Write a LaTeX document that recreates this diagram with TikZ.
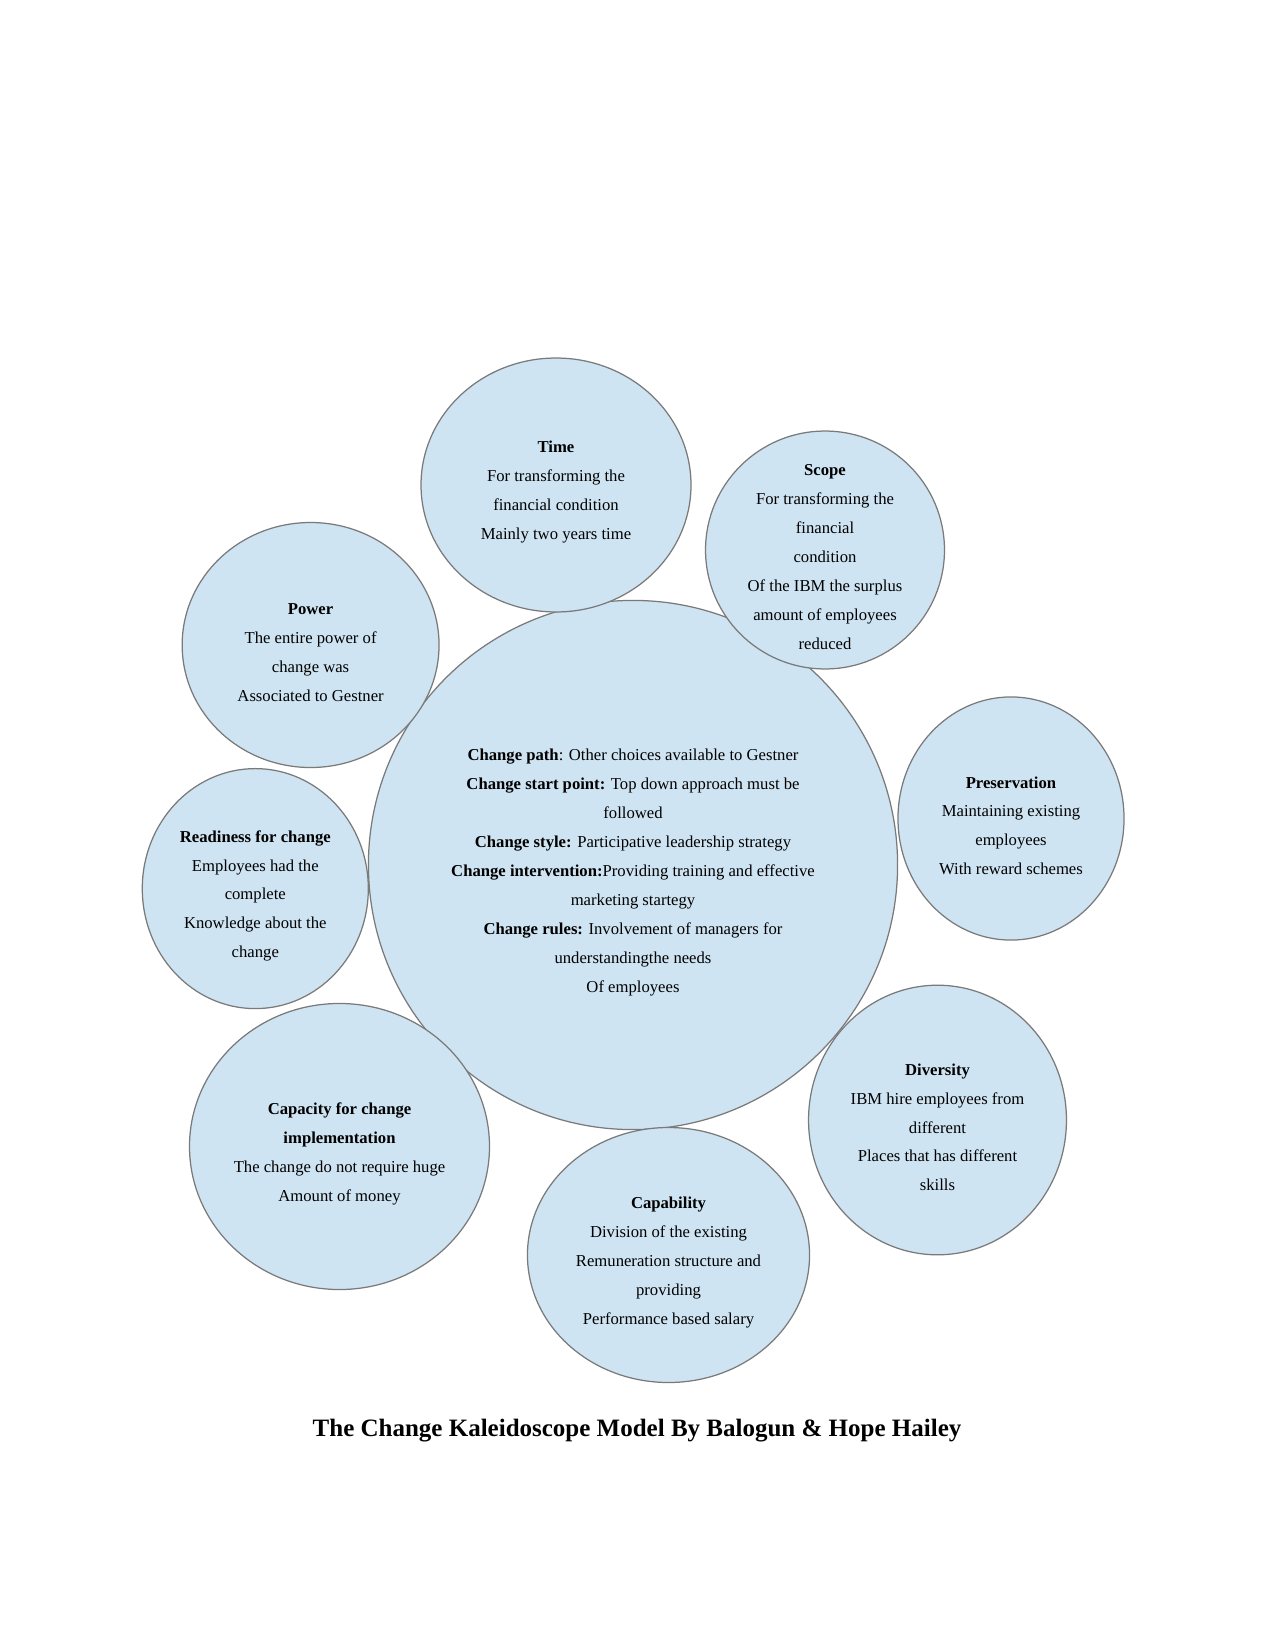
\documentclass[tikz,border=0pt]{standalone}
\usepackage{fontspec}
\setmainfont{Liberation Serif}
\usepackage{tikz}
\usetikzlibrary{shapes.geometric}
\definecolor{bubblefill}{RGB}{207,228,242}
\definecolor{bubbleline}{RGB}{122,122,122}

\begin{document}
\begin{tikzpicture}[
  x={(0.48pt,0)}, y={(0,-0.48pt)},
  bubble/.style={ellipse, draw=bubbleline, line width=0.6pt, fill=bubblefill, inner sep=0pt},
  txt/.style={align=center, inner sep=0pt, yshift=-3.5pt, font=\fontsize{8}{13.9}\selectfont},
  ttl/.style={font=\fontsize{12}{14}\selectfont\bfseries}]
\useasboundingbox (0,0) rectangle (1275,1651);
\node[bubble, minimum width=254pt, minimum height=254pt] (hub) at (633,865) {};
\node[txt] (hub-txt) at (hub) {\textbf{Change path}: Other choices available to Gestner\\ \textbf{Change start point:} Top down approach must be\\ followed\\ \textbf{Change style:} Participative leadership strategy\\ \textbf{Change intervention:}Providing training and effective\\ marketing startegy\\ \textbf{Change rules:} Involvement of managers for\\ understandingthe needs\\ Of employees};
\node[bubble, minimum width=129.6pt, minimum height=121.9pt] (time) at (556,485) {};
\node[txt] (time-txt) at (time) {\textbf{Time}\\ For transforming the\\ financial condition\\ Mainly two years time};
\node[bubble, minimum width=114.7pt, minimum height=114.2pt] (scope) at (825,550) {};
\node[txt] (scope-txt) at (scope) {\textbf{Scope}\\ For transforming the\\ financial\\ condition\\ Of the IBM the surplus\\ amount of employees\\ reduced};
\node[bubble, minimum width=123.3pt, minimum height=117.6pt] (power) at (310.6,645) {};
\node[txt] (power-txt) at (power) {\textbf{Power}\\ The entire power of\\ change was\\ Associated to Gestner};
\node[bubble, minimum width=108.5pt, minimum height=116.7pt] (pres) at (1011,818.5) {};
\node[txt] (pres-txt) at (pres) {\textbf{Preservation}\\ Maintaining existing\\ employees\\ With reward schemes};
\node[bubble, minimum width=108.5pt, minimum height=115.2pt] (ready) at (255.3,888.6) {};
\node[txt] (ready-txt) at (ready) {\textbf{Readiness for change}\\ Employees had the\\ complete\\ Knowledge about the\\ change};
\node[bubble, minimum width=123.8pt, minimum height=129.4pt] (div) at (937.5,1120) {};
\node[txt] (div-txt) at (div) {\textbf{Diversity}\\ IBM hire employees from\\ different\\ Places that has different\\ skills};
\node[bubble, minimum width=144pt, minimum height=137.3pt] (capac) at (339.5,1146.5) {};
\node[txt] (capac-txt) at (capac) {\textbf{Capacity for change}\\ \textbf{implementation}\\ The change do not require huge\\ Amount of money};
\node[bubble, minimum width=135.4pt, minimum height=122.4pt] (capab) at (668.5,1255) {};
\node[txt] (capab-txt) at (capab) {\textbf{Capability}\\ Division of the existing\\ Remuneration structure and\\ providing\\ Performance based salary};
\node[ttl] (title) at (637,1431) {The Change Kaleidoscope Model By Balogun \& Hope Hailey};
\end{tikzpicture}
\end{document}
